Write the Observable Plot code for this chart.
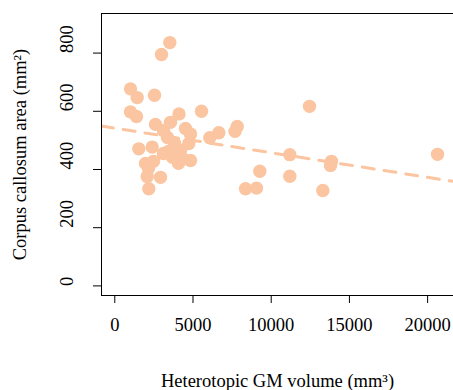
<!DOCTYPE html>
<html>
<head>
<meta charset="utf-8">
<script src="https://cdn.jsdelivr.net/npm/d3@7"></script>
<script src="https://cdn.jsdelivr.net/npm/@observablehq/plot@0.6"></script>
<style>
  html, body { margin: 0; padding: 0; background: #fff; overflow: hidden; }
</style>
</head>
<body>
<div id="chart"></div>
<script>
// Heterotopic GM volume (mm³)
const gmVolume = [
  3517, 2986, 1004, 1432, 2538, 1000, 1388, 5544, 4105, 3561,
  2602, 4521, 3114, 4840, 6650, 7826, 7686, 6074, 4732, 3370,
  3817, 2391, 1535, 3434, 4201, 3689, 4329, 4840, 1963, 2474,
  2155, 2072, 2922, 2174, 8357, 9060, 9271, 11190, 11190, 12449,
  13300, 13856, 13792, 20634, 4073, 3114
];
// Corpus callosum area (mm²)
const ccArea = [
  836, 795, 677, 647, 655, 598, 582, 600, 591, 562,
  555, 541, 534, 522, 526, 548, 531, 509, 489, 510,
  490, 477, 471, 462, 466, 442, 438, 431, 421, 428,
  404, 376, 373, 334, 334, 336, 394, 451, 377, 617,
  328, 428, 414, 452, 421, 455
];
const xTicks = [0, 5000, 10000, 15000, 20000];
const yTicks = [0, 200, 400, 600, 800];
const xDomain = [-850, 21655];
const yDomain = [-33, 936];
// fitted line (lm) shown as dashed line across the plot
const fitIntercept = 542;
const fitSlope = -0.00845;

const pointColor = "#FAC5A0";
const serif = "Liberation Serif";

const data = gmVolume.map((v, i) => ({x: v, y: ccArea[i]}));
const fitLine = xDomain.map(x => ({x, y: fitIntercept + fitSlope * x}));

const chart = Plot.plot({
  width: 453,
  height: 390,
  marginLeft: 101,
  marginRight: 0,
  marginTop: 13,
  marginBottom: 95,
  style: {fontFamily: serif, fontSize: "18.5px", color: "#000", background: "#fff"},
  x: {domain: xDomain},
  y: {domain: yDomain},
  marks: [
    Plot.line(fitLine, {x: "x", y: "y", stroke: pointColor, strokeWidth: 3, strokeDasharray: "12,10", clip: true}),
    Plot.dot(data, {x: "x", y: "y", r: 6.7, fill: pointColor, stroke: "none"}),
    Plot.frame({anchor: "top", stroke: "#000"}),
    Plot.frame({anchor: "left", stroke: "#000"}),
    Plot.frame({anchor: "bottom", stroke: "#000"}),
    Plot.axisX({ticks: xTicks, tickSize: 8, tickFormat: () => "",
      label: "Heterotopic GM volume (mm³)", labelAnchor: "center", labelOffset: 91, labelArrow: "none"}),
    Plot.axisY({ticks: yTicks, tickSize: 8, tickFormat: () => "",
      label: "Corpus callosum area (mm²)", labelAnchor: "center", labelOffset: 89, labelArrow: "none"}),
    Plot.text(xTicks, {x: d => d, text: d => String(d), frameAnchor: "bottom", dy: 35,
      fontFamily: serif, fontSize: 18.5, fill: "#000"}),
    Plot.text(yTicks, {y: d => d, text: d => String(d), frameAnchor: "left", dx: -34, rotate: -90,
      fontFamily: serif, fontSize: 18.5, fill: "#000"})
  ]
});
document.getElementById("chart").appendChild(chart);
</script>
</body>
</html>
